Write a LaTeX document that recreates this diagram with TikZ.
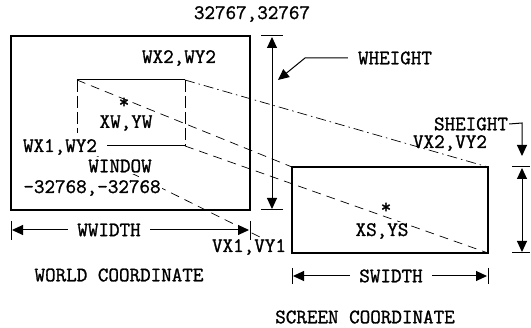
\documentclass[tikz,border=0pt]{standalone}
\usepackage{fontspec}
\newfontfamily\typew[FakeBold=1.3]{Latin Modern Mono}
\usetikzlibrary{arrows.meta}
\begin{document}
\begin{tikzpicture}[x=1pt, y=-1pt,
  every node/.style={font=\typew\fontsize{20.5}{20.5}\selectfont, inner sep=1pt},
  lab/.style={fill=white},
  gap/.style={fill=white, inner xsep=9pt},
  dim/.style={{Triangle[length=11pt,width=10pt]}-{Triangle[length=11pt,width=10pt]}, line width=1pt},
  lead/.style={-{Triangle[length=11pt,width=10pt]}, line width=1pt},
  proj/.style={line width=.7pt, dash pattern=on 9pt off 6pt},
  projdot/.style={line width=.7pt, dash pattern=on 10pt off 4pt on 1.5pt off 4pt}]
  \useasboundingbox (0,0) rectangle (531,328);
  % world, window, screen
  \coordinate (W1) at (11,210); \coordinate (W2) at (250,36);
  \coordinate (A) at (77,80);   \coordinate (B) at (77,146);
  \coordinate (C) at (185,146); \coordinate (D) at (185,80);
  \coordinate (E) at (292,167); \coordinate (F) at (292,253);
  \coordinate (G) at (488,253); \coordinate (H) at (488,167);
  \draw[line width=1.3pt] (W1) rectangle (W2);
  \draw[line width=1.3pt] (F) rectangle (H);
  \draw[line width=1pt] (A)--(D);
  \draw[line width=1pt] (107,146)--(C);
  \draw[line width=1pt, dash pattern=on 12pt off 4pt] (D)--(C);
  \draw[line width=1pt, dash pattern=on 12pt off 4pt] (A)--(77,133);
  % projection
  \draw[projdot] (D)--(H);
  \draw[proj] (A)--(E);
  \draw[proj] (C)--(G);
  \draw[proj] (B)--(F);
  % labels
  \node (top) at (252,14) {32767,32767};
  \node (wx2) at (179,58) {WX2,WY2};
  \node (sw) at (124,103) {*};
  \node (xw) at (126,123) {XW,YW};
  \node[lab] (wx1) at (60,147) {WX1,WY2};
  \node[lab] (win) at (120,166) {WINDOW};
  \node[lab] (wmin) at (92,188) {-32768,-32768};
  \node (vx2) at (450,143) {VX2,VY2};
  \node[lab] (vx1) at (249,247) {VX1,VY1};
  \node (ss) at (386,208) {*};
  \node[lab] (xs) at (382,231) {XS,YS};
  \node (world) at (119,275) {WORLD COORDINATE};
  \node (screen) at (365,317) {SCREEN COORDINATE};
  % heights
  \draw[line width=1pt] (261,36)--(283,36);
  \draw[line width=1pt] (261,210)--(283,210);
  \draw[dim] (272,37)--(272,209);
  \node (wh) at (395,58) {WHEIGHT};
  \coordinate (whk) at (305,58); \coordinate (wht) at (278,80);
  \draw[lead, shorten <=9pt] (wh.west)--(whk)--(wht);
  \draw[line width=1pt] (512,167)--(530,167);
  \draw[line width=1pt] (512,253)--(530,253);
  \draw[dim] (522,168)--(522,252);
  \node (sh) at (471,124) {SHEIGHT};
  \coordinate (shk) at (522,123); \coordinate (sht) at (522,156);
  \draw[lead] (sh.east)--(shk)--(sht);
  % widths
  \draw[line width=1pt] (11,221)--(11,240);
  \draw[line width=1pt] (250,221)--(250,240);
  \draw[dim] (12,230)--(249,230);
  \node[gap] (ww) at (109,230) {WWIDTH};
  \draw[line width=1pt] (292,268)--(292,284);
  \draw[line width=1pt] (488,268)--(488,284);
  \draw[dim] (293,276)--(487,276);
  \node[gap] (sw2) at (391,276) {SWIDTH};
\end{tikzpicture}
\end{document}
